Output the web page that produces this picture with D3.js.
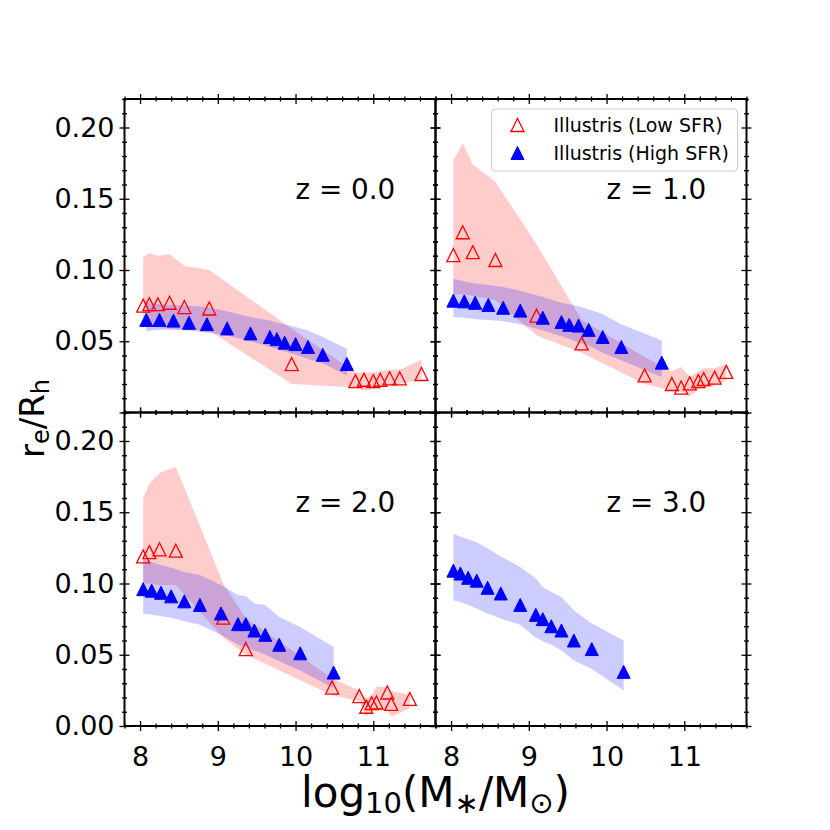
<!DOCTYPE html>
<html>
<head>
<meta charset="utf-8">
<script src="https://cdn.jsdelivr.net/npm/d3@7"></script>
<style>
  body { margin: 0; background: #fff; }
  svg { font-family: "DejaVu Sans", sans-serif; }
</style>
</head>
<body>
<div id="chart"></div>
<script>
// panel labels and legend names
const panelLabels = ['z = 0.0', 'z = 1.0', 'z = 2.0', 'z = 3.0'];
const seriesNames = ['Illustris (Low SFR)', 'Illustris (High SFR)'];
const xTicks = [8, 9, 10, 11];
const yTicks = [0, 0.05, 0.10, 0.15, 0.20];

// z = 0.0
const lowX0 = [8.04, 8.12, 8.23, 8.38, 8.57, 8.89, 9.95, 10.77, 10.88, 11.00, 11.09, 11.21, 11.34, 11.62];
const lowY0 = [0.075, 0.076, 0.076, 0.077, 0.074, 0.073, 0.034, 0.022, 0.023, 0.022, 0.023, 0.024, 0.024, 0.027];
const lowHi0 = [0.109, 0.112, 0.110, 0.111, 0.103, 0.100, 0.059, 0.028, 0.028, 0.028, 0.029, 0.030, 0.030, 0.037];
const lowLo0 = [0.060, 0.060, 0.060, 0.059, 0.058, 0.0575, 0.020, 0.0175, 0.0155, 0.0165, 0.018, 0.019, 0.020, 0.0235];
const highX0 = [8.08, 8.25, 8.43, 8.63, 8.86, 9.12, 9.42, 9.67, 9.76, 9.86, 10.00, 10.16, 10.35, 10.66];
const highY0 = [0.065, 0.065, 0.0645, 0.063, 0.062, 0.059, 0.0555, 0.053, 0.0515, 0.049, 0.048, 0.046, 0.0405, 0.034];
const highHi0 = [0.077, 0.076, 0.0755, 0.075, 0.074, 0.071, 0.067, 0.0645, 0.063, 0.062, 0.060, 0.0575, 0.053, 0.0448];
const highLo0 = [0.057, 0.058, 0.058, 0.0575, 0.056, 0.054, 0.050, 0.046, 0.0445, 0.043, 0.0405, 0.0375, 0.0345, 0.026];

// z = 1.0
const lowX1 = [8.03, 8.15, 8.28, 8.57, 9.10, 9.68, 10.49, 10.84, 10.96, 11.07, 11.18, 11.25, 11.39, 11.54];
const lowY1 = [0.1105, 0.1265, 0.1125, 0.107, 0.068, 0.0485, 0.026, 0.020, 0.0175, 0.0205, 0.022, 0.0235, 0.0245, 0.0285];
const lowHi1 = [0.177, 0.189, 0.174, 0.162, 0.118, 0.065, 0.039, 0.029, 0.032, 0.025, 0.029, 0.031, 0.031, 0.034];
const lowLo1 = [0.083, 0.083, 0.082, 0.079, 0.054, 0.042, 0.020, 0.0155, 0.0145, 0.011, 0.0165, 0.017, 0.019, 0.0225];
const highX1 = [8.03, 8.17, 8.31, 8.48, 8.67, 8.89, 9.18, 9.42, 9.52, 9.64, 9.77, 9.95, 10.19, 10.71];
const highY1 = [0.0785, 0.078, 0.077, 0.0755, 0.0735, 0.0715, 0.0665, 0.0635, 0.0615, 0.061, 0.058, 0.053, 0.046, 0.035];
const highHi1 = [0.094, 0.092, 0.0905, 0.0895, 0.088, 0.0855, 0.081, 0.077, 0.076, 0.0745, 0.0725, 0.069, 0.062, 0.0505];
const highLo1 = [0.067, 0.0665, 0.0655, 0.065, 0.064, 0.062, 0.0575, 0.0535, 0.0515, 0.049, 0.047, 0.042, 0.0365, 0.025];

// z = 2.0
const lowX2 = [8.04, 8.12, 8.25, 8.46, 9.07, 9.36, 10.47, 10.82, 10.91, 10.98, 11.04, 11.18, 11.23, 11.47];
const lowY2 = [0.119, 0.122, 0.124, 0.123, 0.076, 0.054, 0.027, 0.021, 0.0135, 0.016, 0.0165, 0.0235, 0.0155, 0.019];
const lowHi2 = [0.160, 0.170, 0.1775, 0.182, 0.100, 0.0755, 0.0335, 0.025, 0.0195, 0.022, 0.0275, 0.0275, 0.0245, 0.022];
const lowLo2 = [0.100, 0.100, 0.099, 0.099, 0.062, 0.050, 0.0215, 0.0175, 0.0065, 0.0105, 0.011, 0.0105, 0.0065, 0.0125];
const highX2 = [8.04, 8.15, 8.27, 8.40, 8.57, 8.77, 9.04, 9.26, 9.36, 9.47, 9.61, 9.79, 10.06, 10.49];
const highY2 = [0.096, 0.095, 0.0935, 0.091, 0.0875, 0.085, 0.079, 0.0715, 0.0715, 0.067, 0.064, 0.057, 0.051, 0.0375];
const highHi2 = [0.117, 0.115, 0.113, 0.111, 0.108, 0.106, 0.099, 0.092, 0.091, 0.086, 0.085, 0.0765, 0.0695, 0.0555];
const highLo2 = [0.079, 0.078, 0.077, 0.076, 0.0735, 0.071, 0.064, 0.057, 0.0555, 0.053, 0.050, 0.0455, 0.039, 0.0265];

// z = 3.0 (high SFR only)
const highX3 = [8.03, 8.12, 8.22, 8.33, 8.47, 8.64, 8.89, 9.09, 9.18, 9.29, 9.42, 9.58, 9.81, 10.22];
const highY3 = [0.109, 0.107, 0.104, 0.102, 0.097, 0.093, 0.085, 0.078, 0.075, 0.070, 0.067, 0.060, 0.054, 0.038];
const highHi3 = [0.135, 0.133, 0.131, 0.129, 0.1245, 0.119, 0.1115, 0.1035, 0.0975, 0.094, 0.0905, 0.081, 0.072, 0.060];
const highLo3 = [0.088, 0.087, 0.085, 0.0825, 0.079, 0.0755, 0.071, 0.062, 0.0595, 0.057, 0.053, 0.046, 0.040, 0.025];

function zip(xs, ys, lo, hi) {
    return xs.map((v, i) => ({ x: v, y: ys[i], lo: lo[i], hi: hi[i] }));
}

const panels = [
    { label: panelLabels[0], row: 0, col: 0, low: zip(lowX0, lowY0, lowLo0, lowHi0), high: zip(highX0, highY0, highLo0, highHi0) },
    { label: panelLabels[1], row: 0, col: 1, low: zip(lowX1, lowY1, lowLo1, lowHi1), high: zip(highX1, highY1, highLo1, highHi1), legend: true },
    { label: panelLabels[2], row: 1, col: 0, low: zip(lowX2, lowY2, lowLo2, lowHi2), high: zip(highX2, highY2, highLo2, highHi2) },
    { label: panelLabels[3], row: 1, col: 1, low: [], high: zip(highX3, highY3, highLo3, highHi3) }
];

const width = 830, height = 830;
const left0 = 124.5, top0 = 99;
const pw = 311, ph = 313.5;

const svg = d3.select('#chart')
    .append('svg')
    .attr('width', width)
    .attr('height', height);

const xScale = d3.scaleLinear().domain([7.8, 11.8]).range([0, pw]);
const yScale = d3.scaleLinear().domain([0, 0.22]).range([ph, 0]);

const area = d3.area()
    .x(d => xScale(d.x))
    .y0(d => yScale(d.lo))
    .y1(d => yScale(d.hi));

// matplotlib style '^' marker, centred on its bounding box
const tri = 'M0,-6.5L6.5,6.5L-6.5,6.5Z';

const xMinor = d3.range(7.8, 11.81, 0.2).filter(v => Math.abs(v - Math.round(v)) > 0.01);
const yMinor = d3.range(0, 0.2201, 0.01).filter(v => Math.abs(v * 20 - Math.round(v * 20)) > 0.01);

// ticks that cross the spine (in and out)
function inout(g, axis, len) {
    g.call(axis);
    g.select('.domain').remove();
    g.selectAll('.tick line').each(function() {
        const l = d3.select(this);
        if (l.attr('x2') !== null && +l.attr('x2') !== 0) {
            l.attr('x1', -len).attr('x2', len);
        } else {
            l.attr('y1', -len).attr('y2', len);
        }
    });
    g.selectAll('.tick line').attr('stroke', '#000').attr('stroke-width', 1.3);
}

panels.forEach(p => {
    const g = svg.append('g')
        .attr('transform', `translate(${left0 + p.col * pw}, ${top0 + p.row * ph})`);

    g.append('path')
        .datum(p.low)
        .attr('d', area)
        .attr('fill', 'red')
        .attr('fill-opacity', 0.2);

    g.append('path')
        .datum(p.high)
        .attr('d', area)
        .attr('fill', 'blue')
        .attr('fill-opacity', 0.2);

    g.selectAll('.low')
        .data(p.low)
        .enter()
        .append('path')
        .attr('class', 'low')
        .attr('transform', d => `translate(${xScale(d.x)}, ${yScale(d.y)})`)
        .attr('d', tri)
        .attr('fill', 'none')
        .attr('stroke', 'red')
        .attr('stroke-width', 1.3);

    g.selectAll('.high')
        .data(p.high)
        .enter()
        .append('path')
        .attr('class', 'high')
        .attr('transform', d => `translate(${xScale(d.x)}, ${yScale(d.y)})`)
        .attr('d', tri)
        .attr('fill', 'blue')
        .attr('stroke', 'blue')
        .attr('stroke-width', 1);

    g.append('text')
        .attr('x', xScale(10))
        .attr('y', yScale(0.15))
        .style('font-size', '27.8px')
        .text(p.label);

    // axes on all four sides
    const showX = p.row === 1;
    const showY = p.col === 0;

    const bottom = g.append('g').attr('transform', `translate(0, ${ph})`);
    inout(bottom, d3.axisBottom(xScale).tickValues(xTicks).tickSize(5).tickPadding(15.5)
        .tickFormat(showX ? d3.format('d') : ''), 5);
    inout(g.append('g').attr('transform', `translate(0, ${ph})`),
        d3.axisBottom(xScale).tickValues(xMinor).tickSize(2.5).tickFormat(''), 2.5);
    inout(g.append('g'), d3.axisTop(xScale).tickValues(xTicks).tickSize(5).tickFormat(''), 5);
    inout(g.append('g'), d3.axisTop(xScale).tickValues(xMinor).tickSize(2.5).tickFormat(''), 2.5);

    const leftAx = g.append('g');
    inout(leftAx, d3.axisLeft(yScale).tickValues(yTicks).tickSize(5).tickPadding(5)
        .tickFormat(d => (showY && (p.row === 1 || d > 0)) ? d3.format('.2f')(d) : ''), 5);
    inout(g.append('g'), d3.axisLeft(yScale).tickValues(yMinor).tickSize(2.5).tickFormat(''), 2.5);
    inout(g.append('g').attr('transform', `translate(${pw}, 0)`),
        d3.axisRight(yScale).tickValues(yTicks).tickSize(5).tickFormat(''), 5);
    inout(g.append('g').attr('transform', `translate(${pw}, 0)`),
        d3.axisRight(yScale).tickValues(yMinor).tickSize(2.5).tickFormat(''), 2.5);

    g.selectAll('.tick text')
        .attr('fill', '#000')
        .style('font-size', '27px')
        .style('font-family', '"DejaVu Sans", sans-serif');

    g.append('rect')
        .attr('width', pw)
        .attr('height', ph)
        .attr('fill', 'none')
        .attr('stroke', '#000')
        .attr('stroke-width', 2);

    if (p.legend) {
        const lg = g.append('g').attr('transform', 'translate(56, 10)');
        lg.append('rect')
            .attr('width', 246)
            .attr('height', 62)
            .attr('rx', 4)
            .attr('fill', '#fff')
            .attr('fill-opacity', 0.8)
            .attr('stroke', '#cccccc')
            .attr('stroke-width', 1);
        seriesNames.forEach((name, i) => {
            const row = lg.append('g').attr('transform', `translate(0, ${i * 28})`);
            row.append('path')
                .attr('transform', 'translate(26, 16)')
                .attr('d', tri)
                .attr('fill', i === 0 ? 'none' : 'blue')
                .attr('stroke', i === 0 ? 'red' : 'blue')
                .attr('stroke-width', i === 0 ? 1.3 : 1);
            row.append('text')
                .attr('x', 62)
                .attr('y', 22.5)
                .style('font-size', '19px')
                .text(name);
        });
    }
});

// axis titles
const xlab = svg.append('text')
    .attr('x', left0 + pw)
    .attr('y', 807)
    .attr('text-anchor', 'middle')
    .style('font-size', '42px');
xlab.append('tspan').text('log');
xlab.append('tspan').attr('dy', 6).style('font-size', '29px').text('10');
xlab.append('tspan').attr('dy', -6).text('(M');
xlab.append('tspan').attr('dy', 6).style('font-size', '29px').text('\u2217');
xlab.append('tspan').attr('dy', -6).text('/M');
xlab.append('tspan').attr('dy', 6).style('font-size', '29px').text('\u2299');
xlab.append('tspan').attr('dy', -6).text(')');

const ylab = svg.append('text')
    .attr('transform', 'translate(44, 458) rotate(-90)')
    .attr('text-anchor', 'start')
    .style('font-size', '34px');
ylab.append('tspan').text('r');
ylab.append('tspan').attr('dy', 5).style('font-size', '24px').text('e');
ylab.append('tspan').attr('dy', -5).text('/R');
ylab.append('tspan').attr('dy', 5).style('font-size', '24px').text('h');
</script>
</body>
</html>
